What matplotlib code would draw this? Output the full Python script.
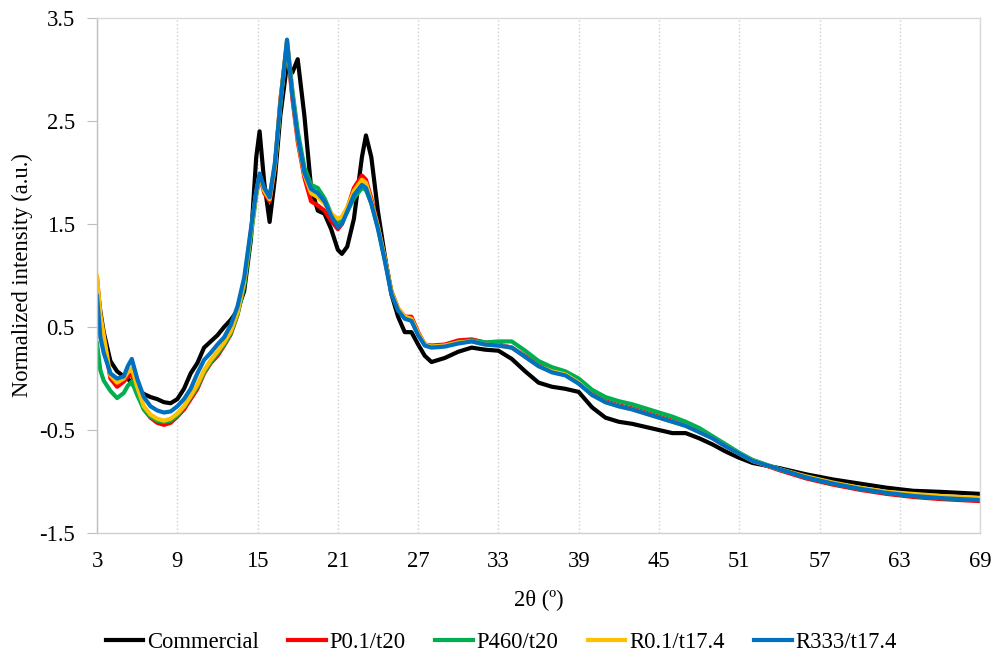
import matplotlib
matplotlib.use("Agg")
import matplotlib.pyplot as plt
from matplotlib.ticker import FixedLocator, FormatStrFormatter

plt.rcParams['font.family'] = ['Liberation Serif', 'DejaVu Serif']
plt.rcParams['axes.unicode_minus'] = False

two_theta = [3.0, 3.25, 3.5, 4.0, 4.5, 5.0, 5.3, 5.6, 6.0, 6.5,
             7.0, 7.5, 8.0, 8.5, 9.0, 9.5, 10.0, 10.5, 11.0, 11.5,
             12.0, 12.5, 13.0, 13.5, 14.0, 14.5, 14.9, 15.15, 15.5, 15.9,
             16.3, 16.7, 17.2, 17.6, 18.0, 18.5, 19.0, 19.5, 20.0, 20.5,
             21.0, 21.3, 21.7, 22.2, 22.8, 23.1, 23.5, 24.0, 24.5, 25.0,
             25.5, 26.0, 26.5, 27.0, 27.5, 28.0, 29.0, 30.0, 31.0, 32.0,
             33.0, 34.0, 35.0, 36.0, 37.0, 38.0, 39.0, 40.0, 41.0, 42.0,
             43.0, 44.0, 45.0, 46.0, 47.0, 48.0, 49.0, 50.0, 51.0, 52.0,
             54.0, 56.0, 58.0, 60.0, 62.0, 64.0, 66.0, 69.0]

commercial = [0.92, 0.65, 0.45, 0.17, 0.07, 0.02, 0.0, -0.05, -0.1, -0.15,
              -0.18, -0.2, -0.23, -0.24, -0.2, -0.1, 0.05, 0.15, 0.3, 0.36,
              0.42, 0.5, 0.57, 0.66, 0.85, 1.35, 2.15, 2.40, 1.9, 1.52,
              1.95, 2.55, 3.05, 2.97, 3.1, 2.55, 1.85, 1.63, 1.6, 1.45,
              1.25, 1.21, 1.28, 1.55, 2.15, 2.36, 2.15, 1.62, 1.2, 0.82,
              0.6, 0.45, 0.45, 0.33, 0.22, 0.16, 0.2, 0.26, 0.3, 0.28,
              0.27, 0.19, 0.07, -0.04, -0.08, -0.1, -0.13, -0.28, -0.38, -0.42,
              -0.44, -0.47, -0.5, -0.53, -0.53, -0.58, -0.64, -0.71, -0.77, -0.82,
              -0.87, -0.93, -0.98, -1.02, -1.06, -1.09, -1.1, -1.12]

p01_t20 = [0.98, 0.6, 0.4, 0.0, -0.08, -0.03, 0.02, 0.04, -0.12, -0.3,
           -0.38, -0.43, -0.45, -0.43, -0.37, -0.3, -0.2, -0.1, 0.05, 0.15,
           0.22, 0.32, 0.43, 0.62, 0.92, 1.42, 1.8, 1.97, 1.8, 1.72,
           2.05, 2.7, 3.25, 2.72, 2.3, 1.95, 1.72, 1.68, 1.63, 1.53,
           1.45, 1.5, 1.65, 1.85, 1.97, 1.93, 1.75, 1.48, 1.17, 0.85,
           0.68, 0.6, 0.6, 0.45, 0.33, 0.32, 0.33, 0.37, 0.38, 0.35,
           0.33, 0.3, 0.22, 0.13, 0.08, 0.05, -0.03, -0.15, -0.22, -0.26,
           -0.29, -0.33, -0.37, -0.41, -0.45, -0.51, -0.58, -0.66, -0.73, -0.8,
           -0.89, -0.97, -1.03, -1.08, -1.12, -1.15, -1.17, -1.19]

p460_t20 = [0.34, 0.08, -0.02, -0.12, -0.19, -0.14, -0.07, -0.03, -0.16, -0.3,
            -0.37, -0.41, -0.42, -0.41, -0.36, -0.28, -0.18, -0.08, 0.06, 0.16,
            0.24, 0.33, 0.44, 0.62, 0.9, 1.38, 1.78, 1.95, 1.85, 1.77,
            2.07, 2.65, 3.27, 2.8, 2.4, 2.05, 1.88, 1.85, 1.75, 1.6,
            1.52, 1.52, 1.62, 1.75, 1.85, 1.83, 1.7, 1.47, 1.16, 0.84,
            0.67, 0.59, 0.57, 0.43, 0.33, 0.31, 0.32, 0.35, 0.37, 0.35,
            0.36, 0.36, 0.27, 0.17, 0.11, 0.07, 0.0, -0.11, -0.18, -0.22,
            -0.25, -0.29, -0.33, -0.37, -0.42, -0.48, -0.56, -0.64, -0.72, -0.79,
            -0.88, -0.96, -1.02, -1.07, -1.11, -1.14, -1.16, -1.18]

r01_t174 = [0.99, 0.62, 0.42, 0.03, -0.04, 0.0, 0.06, 0.1, -0.08, -0.27,
            -0.35, -0.39, -0.41, -0.39, -0.34, -0.27, -0.17, -0.06, 0.08, 0.18,
            0.26, 0.35, 0.46, 0.64, 0.94, 1.43, 1.8, 1.98, 1.82, 1.74,
            2.07, 2.68, 3.28, 2.76, 2.33, 1.98, 1.8, 1.76, 1.7, 1.6,
            1.55, 1.57, 1.66, 1.82, 1.93, 1.9, 1.72, 1.47, 1.17, 0.84,
            0.68, 0.6, 0.58, 0.44, 0.33, 0.31, 0.32, 0.35, 0.36, 0.33,
            0.32, 0.3, 0.21, 0.12, 0.07, 0.04, -0.04, -0.16, -0.23, -0.27,
            -0.3, -0.34, -0.38, -0.42, -0.46, -0.52, -0.58, -0.66, -0.73, -0.8,
            -0.88, -0.95, -1.01, -1.06, -1.1, -1.12, -1.14, -1.16]

r333_t174 = [0.8, 0.4, 0.25, 0.05, 0.0, 0.02, 0.12, 0.19, 0.0, -0.18,
             -0.27, -0.31, -0.33, -0.32, -0.27, -0.2, -0.1, 0.05, 0.18, 0.25,
             0.33, 0.4, 0.52, 0.7, 0.98, 1.45, 1.82, 1.99, 1.85, 1.76,
             2.1, 2.67, 3.29, 2.75, 2.35, 2.0, 1.84, 1.8, 1.72, 1.58,
             1.47, 1.5, 1.62, 1.78, 1.88, 1.85, 1.7, 1.45, 1.15, 0.82,
             0.66, 0.58, 0.56, 0.42, 0.32, 0.3, 0.31, 0.34, 0.36, 0.33,
             0.32, 0.3, 0.21, 0.12, 0.06, 0.03, -0.05, -0.16, -0.23, -0.27,
             -0.3, -0.34, -0.38, -0.42, -0.46, -0.52, -0.58, -0.66, -0.73, -0.8,
             -0.88, -0.96, -1.02, -1.07, -1.11, -1.14, -1.16, -1.18]

series = [
    ("Commercial", commercial, "#000000"),
    ("P0.1/t20", p01_t20, "#FF0000"),
    ("P460/t20", p460_t20, "#00B050"),
    ("R0.1/t17.4", r01_t174, "#FFC000"),
    ("R333/t17.4", r333_t174, "#0070C0"),
]

x_ticks = [3, 9, 15, 21, 27, 33, 39, 45, 51, 57, 63, 69]
y_ticks = [-1.5, -0.5, 0.5, 1.5, 2.5, 3.5]

FS = 16.3

fig = plt.figure(figsize=(9.93, 6.57), dpi=100)
ax = fig.add_axes([0.0977, 0.1887, 0.8893, 0.7839])

for label, vals, color in series:
    ax.plot(two_theta, vals, color=color, lw=3.0, label=label,
            solid_joinstyle='round')

ax.set_xlim(3, 69)
ax.set_ylim(-1.5, 3.5)
ax.xaxis.set_major_locator(FixedLocator(x_ticks))
ax.yaxis.set_major_locator(FixedLocator(y_ticks))
ax.yaxis.set_major_formatter(FormatStrFormatter('%.1f'))
ax.grid(axis='x', color='#d0d0d0', linestyle=':', linewidth=1.0)
ax.set_axisbelow(True)

for name, spine in ax.spines.items():
    spine.set_color('#d9d9d9')
    spine.set_linewidth(1.0)
ax.spines['left'].set_color('#bfbfbf')
ax.spines['bottom'].set_color('#d0d0d0')

ax.tick_params(axis='x', length=0, pad=13, labelsize=FS)
ax.tick_params(axis='y', length=7, color='#bfbfbf', pad=9, labelsize=FS)

ax.set_xlabel("2θ (º)", fontsize=FS, labelpad=13)
ax.set_ylabel("Normalized intensity (a.u.)", fontsize=FS, labelpad=4)

ax.legend(loc='center', bbox_to_anchor=(0.505, 0.022),
          bbox_transform=fig.transFigure, ncol=5, frameon=False,
          fontsize=FS, handlelength=1.65, handletextpad=0.18,
          columnspacing=1.3)

fig.savefig("out.png", dpi=100)
